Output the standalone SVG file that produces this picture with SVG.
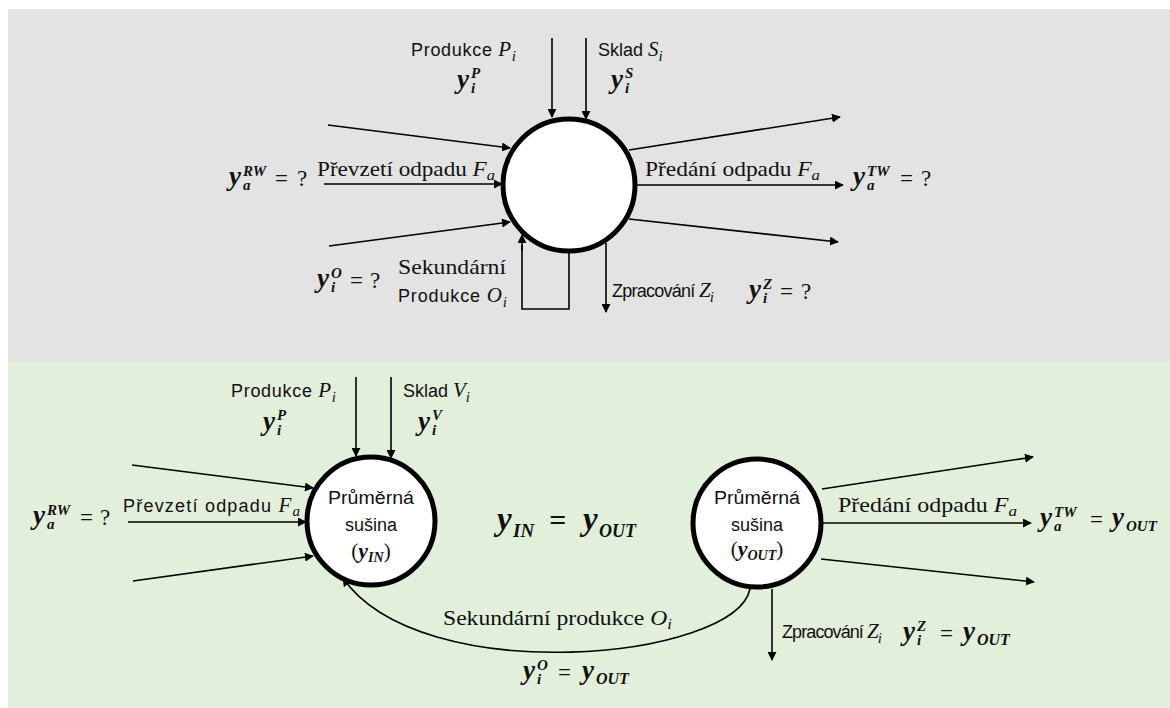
<svg xmlns="http://www.w3.org/2000/svg" width="1170" height="708" viewBox="0 0 1170 708">
<defs>
<marker id="ah" viewBox="0 0 10 10" refX="9" refY="5" markerWidth="9" markerHeight="9" markerUnits="userSpaceOnUse" orient="auto"><path d="M0,0 L10,5 L0,10 z" fill="#000"/></marker>
<style>
.ln{stroke:#000;stroke-width:1.6;fill:none;marker-end:url(#ah)}
.pl{stroke:#000;stroke-width:1.6;fill:none}
.node{fill:#fff;stroke:#000;stroke-width:5}
.sans{font-family:"Liberation Sans",Arial,sans-serif;font-size:18px;fill:#111}
.ser{font-family:"Liberation Serif","Times New Roman",serif;font-size:21px;fill:#111}
.mi{font-family:"Liberation Serif","Times New Roman",serif;font-style:italic}
.mb{font-family:"Liberation Serif","Times New Roman",serif;font-style:italic;font-weight:bold;fill:#111}
.y{font-size:27px}
.s{font-size:15px}
.eq{font-family:"Liberation Serif","Times New Roman",serif;font-size:23px;fill:#111}
</style>
</defs>
<rect x="8" y="9" width="1162" height="353" fill="#e3e3e3"/>
<rect x="8" y="362" width="1162" height="346" fill="#e2efda"/>

<g id="connectors">
<line class="ln" x1="552" y1="38" x2="552" y2="117"/>
<line class="ln" x1="586" y1="38" x2="586" y2="119"/>
<line class="ln" x1="328" y1="125" x2="510" y2="148"/>
<line class="ln" x1="324" y1="184" x2="502" y2="184"/>
<line class="ln" x1="329" y1="246" x2="510" y2="222"/>
<line class="ln" x1="629" y1="150" x2="840" y2="117"/>
<line class="ln" x1="637" y1="185" x2="843" y2="185"/>
<line class="ln" x1="629" y1="219" x2="838" y2="242"/>
<line class="ln" x1="606" y1="243" x2="606" y2="312"/>
<polyline class="pl" points="569,252 569,309 522,309 522,245"/>
<line class="ln" x1="522" y1="250" x2="522" y2="235"/>
<line class="ln" x1="356" y1="377" x2="356" y2="456"/>
<line class="ln" x1="391" y1="377" x2="391" y2="458"/>
<line class="ln" x1="132" y1="465" x2="313" y2="488"/>
<line class="ln" x1="128" y1="522" x2="306" y2="522"/>
<line class="ln" x1="133" y1="581" x2="313" y2="556"/>
<line class="ln" x1="822" y1="489" x2="1033" y2="457"/>
<line class="ln" x1="821" y1="523" x2="1031" y2="523"/>
<line class="ln" x1="821" y1="559" x2="1034" y2="582"/>
<line class="ln" x1="772" y1="589" x2="772" y2="660"/>
<path class="ln" d="M750,589 C735,660 420,690 343,578"/>
</g>

<g id="node-top">
<circle class="node" cx="569" cy="185" r="66"/>
</g>
<g id="node-in">
<circle class="node" cx="371" cy="521" r="64"/>
<text class="sans" x="371" y="504" text-anchor="middle" textLength="86" lengthAdjust="spacingAndGlyphs">Průměrná</text>
<text class="sans" x="371" y="531" text-anchor="middle">sušina</text>
<text class="ser" x="371" y="558" text-anchor="middle">(<tspan class="mb" font-size="22">y</tspan><tspan class="mb" font-size="14" dy="4">IN</tspan><tspan dy="-4">)</tspan></text>
</g>
<g id="node-out">
<circle class="node" cx="757" cy="523" r="64"/>
<text class="sans" x="757" y="504" text-anchor="middle" textLength="86" lengthAdjust="spacingAndGlyphs">Průměrná</text>
<text class="sans" x="757" y="531" text-anchor="middle">sušina</text>
<text class="ser" x="757" y="556" text-anchor="middle">(<tspan class="mb" font-size="22">y</tspan><tspan class="mb" font-size="14" dy="4">OUT</tspan><tspan dy="-4">)</tspan></text>
</g>

<g id="labels-top">
<text class="sans" x="411" y="56" textLength="105" lengthAdjust="spacing">Produkce <tspan class="mi" font-size="21">P</tspan><tspan class="mi" font-size="15" dy="5">i</tspan></text>
<text class="mb y" x="457" y="88">y</text><text class="mb s" x="471" y="78">P</text><text class="mb s" x="471" y="93">i</text>
<text class="sans" x="598" y="56">Sklad <tspan class="mi" font-size="21">S</tspan><tspan class="mi" font-size="15" dy="5">i</tspan></text>
<text class="mb y" x="611" y="88">y</text><text class="mb s" x="625" y="78">S</text><text class="mb s" x="625" y="93">i</text>

<text class="mb y" x="229" y="185">y</text><text class="mb s" x="243" y="176">RW</text><text class="mb s" x="243" y="190">a</text><text class="eq" x="275" y="186">=</text><text class="eq" x="297" y="186">?</text>
<text class="ser" x="317" y="176" textLength="178" lengthAdjust="spacingAndGlyphs">Převzetí odpadu <tspan class="mi">F</tspan><tspan class="mi" font-size="15" dy="4">a</tspan></text>
<text class="ser" x="645" y="176" textLength="175" lengthAdjust="spacingAndGlyphs">Předání odpadu <tspan class="mi">F</tspan><tspan class="mi" font-size="15" dy="4">a</tspan></text>
<text class="mb y" x="853" y="185">y</text><text class="mb s" x="867" y="176">TW</text><text class="mb s" x="867" y="190">a</text><text class="eq" x="900" y="186">=</text><text class="eq" x="921" y="186">?</text>

<text class="mb y" x="317" y="287">y</text><text class="mb s" x="331" y="278">O</text><text class="mb s" x="331" y="292">i</text><text class="eq" x="350" y="288">=</text><text class="eq" x="370" y="288">?</text>
<text class="ser" x="398" y="274" textLength="108" lengthAdjust="spacingAndGlyphs">Sekundární</text>
<text class="sans" x="398" y="302" textLength="109" lengthAdjust="spacing">Produkce <tspan class="mi" font-size="21">O</tspan><tspan class="mi" font-size="15" dy="5">i</tspan></text>
<text class="sans" x="612" y="297" textLength="102" lengthAdjust="spacing">Zpracování <tspan class="mi" font-size="21">Z</tspan><tspan class="mi" font-size="15" dy="5">i</tspan></text>
<text class="mb y" x="749" y="298">y</text><text class="mb s" x="763" y="289">Z</text><text class="mb s" x="763" y="303">i</text><text class="eq" x="780" y="299">=</text><text class="eq" x="801" y="299">?</text>
</g>

<g id="labels-bottom">
<text class="sans" x="231" y="397" textLength="105" lengthAdjust="spacing">Produkce <tspan class="mi" font-size="21">P</tspan><tspan class="mi" font-size="15" dy="5">i</tspan></text>
<text class="mb y" x="263" y="430">y</text><text class="mb s" x="277" y="420">P</text><text class="mb s" x="277" y="435">i</text>
<text class="sans" x="403" y="397">Sklad <tspan class="mi" font-size="21">V</tspan><tspan class="mi" font-size="15" dy="5">i</tspan></text>
<text class="mb y" x="418" y="430">y</text><text class="mb s" x="432" y="420">V</text><text class="mb s" x="432" y="435">i</text>

<text class="mb y" x="33" y="524">y</text><text class="mb s" x="47" y="515">RW</text><text class="mb s" x="47" y="529">a</text><text class="eq" x="80" y="525">=</text><text class="eq" x="100" y="525">?</text>
<text class="sans" x="123" y="512" textLength="177" lengthAdjust="spacing">Převzetí odpadu <tspan class="mi" font-size="21">F</tspan><tspan class="mi" font-size="15" dy="4">a</tspan></text>

<text class="mb" x="497" y="530" font-size="33">y</text><text class="mb" x="513" y="537" font-size="19">IN</text><text class="mb" x="549" y="530" font-size="30">=</text><text class="mb" x="583" y="530" font-size="33">y</text><text class="mb" x="599" y="537" font-size="18">OUT</text>

<text class="ser" x="838" y="512" textLength="179" lengthAdjust="spacingAndGlyphs">Předání odpadu <tspan class="mi">F</tspan><tspan class="mi" font-size="15" dy="4">a</tspan></text>
<text class="mb y" x="1040" y="526">y</text><text class="mb s" x="1054" y="517">TW</text><text class="mb s" x="1054" y="531">a</text><text class="eq" x="1090" y="527">=</text><text class="mb y" x="1112" y="526">y</text><text class="mb" x="1126" y="531" font-size="15">OUT</text>

<text class="ser" x="443" y="625" textLength="229" lengthAdjust="spacingAndGlyphs">Sekundární produkce <tspan class="mi">O</tspan><tspan class="mi" font-size="15" dy="4">i</tspan></text>
<text class="mb y" x="523" y="679">y</text><text class="mb s" x="537" y="670">O</text><text class="mb s" x="537" y="684">i</text><text class="eq" x="558" y="680">=</text><text class="mb y" x="582" y="679">y</text><text class="mb" x="596" y="684" font-size="16">OUT</text>

<text class="sans" x="782" y="638" textLength="100" lengthAdjust="spacing">Zpracování <tspan class="mi" font-size="21">Z</tspan><tspan class="mi" font-size="15" dy="5">i</tspan></text>
<text class="mb y" x="903" y="640">y</text><text class="mb s" x="917" y="631">Z</text><text class="mb s" x="917" y="645">i</text><text class="eq" x="940" y="641">=</text><text class="mb y" x="963" y="640">y</text><text class="mb" x="977" y="645" font-size="16">OUT</text>
</g>
</svg>
